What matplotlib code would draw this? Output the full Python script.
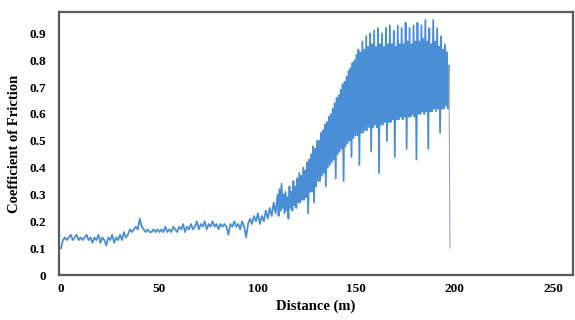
import matplotlib
matplotlib.use('Agg')
import matplotlib.pyplot as plt
import numpy as np

plt.rcParams['font.family'] = ['Liberation Serif', 'DejaVu Serif']
plt.rcParams['font.weight'] = 'bold'

# friction coefficient
# 0 - 109 m, one reading per metre
cof_early = [0.10, 0.13, 0.14, 0.13, 0.14, 0.15, 0.13, 0.14, 0.15, 0.13,
             0.14, 0.13, 0.14, 0.15, 0.13, 0.14, 0.12, 0.14, 0.13, 0.15,
             0.12, 0.14, 0.13, 0.11, 0.14, 0.13, 0.15, 0.12, 0.14, 0.13,
             0.15, 0.13, 0.16, 0.14, 0.15, 0.17, 0.16, 0.17, 0.18, 0.17,
             0.21, 0.18, 0.17, 0.16, 0.17, 0.16, 0.16, 0.17, 0.16, 0.17,
             0.16, 0.17, 0.16, 0.18, 0.16, 0.17, 0.16, 0.18, 0.17, 0.16,
             0.18, 0.17, 0.19, 0.16, 0.18, 0.17, 0.19, 0.17, 0.18, 0.20,
             0.17, 0.19, 0.18, 0.20, 0.17, 0.19, 0.18, 0.20, 0.18, 0.19,
             0.17, 0.19, 0.18, 0.19, 0.18, 0.15, 0.19, 0.18, 0.20, 0.18,
             0.19, 0.17, 0.20, 0.18, 0.14, 0.19, 0.21, 0.19, 0.22, 0.20,
             0.23, 0.19, 0.22, 0.20, 0.24, 0.21, 0.25, 0.22, 0.27, 0.23]

# 110 - 197.5 m, two readings per metre (peak, trough)
cof_late = [0.30, 0.22, 0.32, 0.24, 0.34, 0.25, 0.30, 0.23, 0.31, 0.24,
            0.29, 0.21, 0.33, 0.25, 0.31, 0.24, 0.35, 0.26, 0.33, 0.25,
            0.36, 0.27, 0.38, 0.27, 0.37, 0.28, 0.40, 0.28, 0.39, 0.29,
            0.42, 0.23, 0.43, 0.31, 0.45, 0.31, 0.48, 0.27, 0.47, 0.33,
            0.50, 0.35, 0.50, 0.35, 0.53, 0.37, 0.54, 0.38, 0.56, 0.33,
            0.57, 0.40, 0.59, 0.41, 0.60, 0.42, 0.62, 0.43, 0.64, 0.36,
            0.66, 0.45, 0.67, 0.46, 0.69, 0.47, 0.71, 0.35, 0.72, 0.48,
            0.74, 0.49, 0.76, 0.50, 0.77, 0.44, 0.79, 0.51, 0.80, 0.52,
            0.82, 0.52, 0.84, 0.41, 0.83, 0.53, 0.87, 0.53, 0.84, 0.54,
            0.89, 0.54, 0.85, 0.55, 0.90, 0.46, 0.86, 0.55, 0.91, 0.56,
            0.85, 0.55, 0.92, 0.38, 0.86, 0.56, 0.90, 0.56, 0.85, 0.57,
            0.92, 0.50, 0.86, 0.57, 0.93, 0.57, 0.86, 0.58, 0.91, 0.44,
            0.85, 0.58, 0.93, 0.58, 0.86, 0.59, 0.92, 0.58, 0.86, 0.59,
            0.94, 0.47, 0.87, 0.59, 0.92, 0.59, 0.86, 0.60, 0.93, 0.59,
            0.87, 0.43, 0.94, 0.60, 0.87, 0.60, 0.93, 0.61, 0.88, 0.60,
            0.95, 0.61, 0.87, 0.47, 0.92, 0.61, 0.86, 0.61, 0.95, 0.62,
            0.87, 0.61, 0.92, 0.62, 0.85, 0.53, 0.89, 0.62, 0.84, 0.62,
            0.86, 0.63, 0.83, 0.62, 0.78, 0.10]

x_ticks = [0, 50, 100, 150, 200, 250]
y_ticks = [0, 0.1, 0.2, 0.3, 0.4, 0.5, 0.6, 0.7, 0.8, 0.9]
y_ticklabels = ['0', '0.1', '0.2', '0.3', '0.4', '0.5', '0.6', '0.7', '0.8', '0.9']

dist = np.concatenate([np.arange(len(cof_early)) * 1.0,
                       110 + np.arange(len(cof_late)) * 0.5])
cof = np.array(cof_early + cof_late)

fig = plt.figure(figsize=(5.75, 3.2), dpi=100)
ax = fig.add_axes([0.1026, 0.1406, 0.894, 0.822])
ax.plot(dist[:-1], cof[:-1], color='#4a8fd6', lw=1.3)
# last reading drops back down, drawn thin like the original
ax.plot(dist[-2:], cof[-2:], color='#9aa6b2', lw=0.8)

ax.set_xlim(-1, 260)
ax.set_ylim(0, 0.98)
ax.set_xticks(x_ticks)
ax.set_yticks(y_ticks)
ax.set_yticklabels(y_ticklabels)
ax.tick_params(length=0, labelsize=9.5)
ax.tick_params(axis='y', pad=9)
ax.tick_params(axis='x', pad=6)
for s in ax.spines.values():
    s.set_color('#5a5a5a')
    s.set_linewidth(1.6)

ax.set_xlabel('Distance (m)', fontsize=10.5, fontweight='bold', labelpad=3)
ax.set_ylabel('Coefficient of Friction', fontsize=10.5, fontweight='bold', labelpad=6)

fig.savefig('out.png', dpi=100)
